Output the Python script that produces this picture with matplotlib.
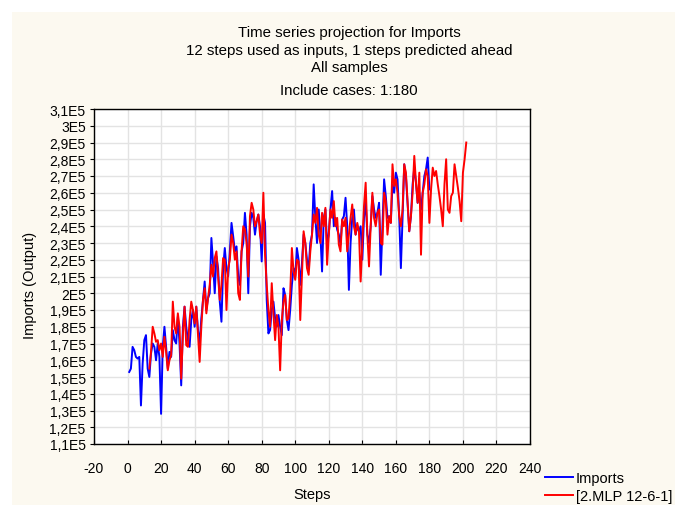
import matplotlib
matplotlib.use("Agg")
import matplotlib.pyplot as plt
from matplotlib.patches import Rectangle

plt.rcParams['font.family'] = ['Liberation Sans', 'DejaVu Sans']

# ---- data (values in units of 1E5) ----
imports_start = 1
imports = [
    1.53, 1.55, 1.68, 1.66, 1.62, 1.61, 1.62, 1.33, 1.58, 1.72,
    1.75, 1.55, 1.50, 1.64, 1.70, 1.68, 1.60, 1.70, 1.62, 1.28,
    1.68, 1.80, 1.68, 1.55, 1.65, 1.62, 1.78, 1.72, 1.70, 1.86,
    1.70, 1.45, 1.80, 1.92, 1.80, 1.72, 1.68, 1.84, 1.90, 1.80,
    1.92, 1.78, 1.70, 1.85, 1.96, 2.07, 1.90, 1.97, 2.00, 2.33,
    2.18, 2.00, 2.22, 2.15, 1.95, 1.83, 2.15, 2.27, 2.15, 2.10,
    2.25, 2.42, 2.34, 2.25, 2.28, 2.10, 2.05, 2.25, 2.30, 2.48,
    2.35, 2.00, 2.40, 2.48, 2.45, 2.35, 2.43, 2.47, 2.40, 2.19,
    2.47, 2.42, 1.96, 1.76, 1.78, 1.90, 1.95, 1.85, 1.80, 1.87,
    1.80, 1.75, 2.03, 1.99, 1.84, 1.78, 1.90, 2.05, 2.15, 2.10,
    2.27, 2.20, 2.05, 2.18, 2.35, 2.30, 2.20, 2.15, 2.30, 2.35,
    2.65, 2.45, 2.30, 2.50, 2.35, 2.13, 2.45, 2.50, 2.30, 2.35,
    2.50, 2.61, 2.40, 2.45, 2.38, 2.35, 2.29, 2.44, 2.46, 2.57,
    2.40, 2.02, 2.30, 2.45, 2.50, 2.35, 2.40, 2.37, 2.40, 2.20,
    2.45, 2.55, 2.35, 2.30, 2.40, 2.58, 2.50, 2.45, 2.48, 2.54,
    2.11, 2.40, 2.68, 2.58, 2.45, 2.46, 2.42, 2.65, 2.60, 2.72,
    2.68, 2.46, 2.15, 2.45, 2.77, 2.70, 2.54, 2.37, 2.46, 2.65,
    2.75, 2.66, 2.54, 2.60, 2.50, 2.60, 2.70, 2.74, 2.81, 2.62,
]

mlp_start = 13
mlp = [
    1.55, 1.65, 1.80, 1.76, 1.71, 1.72, 1.66, 1.70, 1.62, 1.74,
    1.65, 1.54, 1.60, 1.63, 1.95, 1.80, 1.76, 1.88, 1.80, 1.49,
    1.75, 1.92, 1.69, 1.68, 1.84, 1.95, 1.90, 1.82, 1.92, 1.76,
    1.59, 1.80, 1.96, 2.03, 1.88, 1.97, 2.05, 2.17, 2.10, 2.21,
    2.25, 2.10, 1.96, 2.05, 2.21, 2.20, 1.90, 2.15, 2.20, 2.35,
    2.30, 2.20, 2.25, 2.00, 1.96, 2.25, 2.40, 2.38, 2.30, 2.10,
    2.46, 2.54, 2.50, 2.40, 2.43, 2.47, 2.35, 2.30, 2.60, 2.23,
    2.05, 1.90, 1.80, 2.06, 1.88, 1.72, 1.87, 1.80, 1.54, 1.84,
    1.95, 1.99, 1.84, 1.85, 2.00, 2.27, 2.13, 2.08, 2.20, 2.19,
    1.84, 2.10, 2.37, 2.30, 2.15, 2.11, 2.25, 2.35, 2.47, 2.42,
    2.51, 2.35, 2.30, 2.48, 2.40, 2.51, 2.17, 2.35, 2.50, 2.45,
    2.55, 2.40, 2.45, 2.29, 2.25, 2.44, 2.40, 2.45, 2.25, 2.35,
    2.45, 2.53, 2.40, 2.35, 2.42, 2.37, 2.07, 2.30, 2.52, 2.66,
    2.35, 2.16, 2.40, 2.60, 2.45, 2.40, 2.48, 2.50, 2.30, 2.29,
    2.60, 2.55, 2.35, 2.46, 2.42, 2.77, 2.64, 2.68, 2.60, 2.46,
    2.40, 2.50, 2.77, 2.72, 2.54, 2.37, 2.46, 2.60, 2.82, 2.66,
    2.54, 2.72, 2.23, 2.60, 2.65, 2.74, 2.70, 2.42, 2.62, 2.75,
    2.70, 2.73, 2.65, 2.58, 2.50, 2.40, 2.65, 2.80, 2.50, 2.48,
    2.58, 2.60, 2.77, 2.70, 2.63, 2.55, 2.43, 2.72, 2.80, 2.90,
]

x_ticks = list(range(-20, 241, 20))
y_ticks = [1.1, 1.2, 1.3, 1.4, 1.5, 1.6, 1.7, 1.8, 1.9, 2.0, 2.1,
           2.2, 2.3, 2.4, 2.5, 2.6, 2.7, 2.8, 2.9, 3.0, 3.1]
y_tick_labels = ["1,1E5", "1,2E5", "1,3E5", "1,4E5", "1,5E5", "1,6E5", "1,7E5",
                 "1,8E5", "1,9E5", "2E5", "2,1E5", "2,2E5", "2,3E5", "2,4E5",
                 "2,5E5", "2,6E5", "2,7E5", "2,8E5", "2,9E5", "3E5", "3,1E5"]
title_lines = ["Time series projection for Imports",
               "12 steps used as inputs, 1 steps predicted ahead",
               "All samples"]
subtitle = "Include cases: 1:180"
series_labels = ["Imports", "[2.MLP 12-6-1]"]

W, H = 675, 506
fig = plt.figure(figsize=(W / 100, H / 100), dpi=100)
fig.patch.set_facecolor("white")
fig.patches.append(Rectangle((12 / W, 0), 1 - 12 / W, 1 - 13 / H,
                             transform=fig.transFigure, facecolor="#FCF9F0",
                             edgecolor="none", zorder=-10))

ax = fig.add_axes([94 / W, 1 - 445 / H, (530 - 94) / W, (445 - 110) / H])
ax.set_facecolor("white")

xs_imp = list(range(imports_start, imports_start + len(imports)))
xs_mlp = list(range(mlp_start, mlp_start + len(mlp)))
l1, = ax.plot(xs_imp, imports, color="#0000FF", lw=1.4, label=series_labels[0], zorder=3)
l2, = ax.plot(xs_mlp, mlp, color="#FF0000", lw=1.4, label=series_labels[1], zorder=4)

ax.set_xlim(-20, 240)
ax.set_ylim(1.1, 3.1)
ax.set_xticks(x_ticks)
ax.set_xticklabels([str(t) for t in x_ticks])
ax.set_yticks(y_ticks)
ax.set_yticklabels(y_tick_labels)
ax.grid(True, color="#E3E3E3", lw=1.0, zorder=0)
ax.set_axisbelow(True)
for s in ax.spines.values():
    s.set_color("black")
    s.set_linewidth(1.0)
ax.tick_params(axis="x", direction="in", length=3, pad=12, labelsize=10, colors="black")
ax.tick_params(axis="y", direction="out", length=3, pad=3, labelsize=10, colors="black")

fig.text(312 / W, 1 - 495 / H, "Steps", ha="center", va="center", fontsize=10.5)
fig.text(30 / W, 1 - 285 / H, "Imports (Output)", rotation=90, ha="center",
         va="center", fontsize=10.5)

tx = 349 / W
for line, yy in zip(title_lines, [33, 51, 68]):
    fig.text(tx, 1 - yy / H, line, ha="center", va="center", fontsize=10.8)
fig.text(tx, 1 - 91 / H, subtitle, ha="center", va="center", fontsize=10.8)

fig.legend(handles=[l1, l2], labels=series_labels, loc="upper left",
           bbox_to_anchor=(545 / W, 1 - 472 / H), frameon=False, fontsize=10.5,
           handlelength=1.9, handletextpad=0.2, borderpad=0, borderaxespad=0,
           labelspacing=0.3)

fig.savefig("out.png", dpi=100, facecolor=fig.get_facecolor())
